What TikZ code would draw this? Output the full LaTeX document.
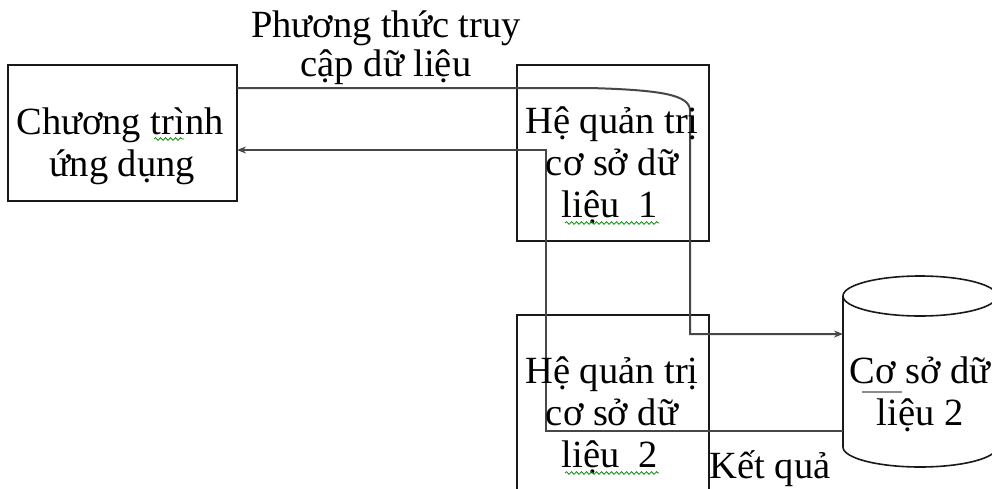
\documentclass[tikz,border=0pt]{standalone}
\usepackage{fontspec}
\setmainfont{Liberation Serif}
\usetikzlibrary{arrows.meta,decorations.pathmorphing}
\begin{document}
\begin{tikzpicture}[x=1pt,y=-1pt,
  box/.style={draw=black!90, line width=1.6pt, rectangle, inner sep=0pt, outer sep=0pt},
  txt/.style={anchor=base, inner sep=0pt, font=\fontsize{38.5}{44}\selectfont},
  conn/.style={draw=black!72, line width=2pt},
  tip/.style={-{Stealth[length=9pt,width=7pt]}},
  squig/.style={draw=green!55!black, line width=0.8pt, decorate, decoration={snake, amplitude=1.3pt, segment length=5pt}}]
\useasboundingbox (0,0) rectangle (992,488);
\clip (0,0) rectangle (992,488);
% boxes
\node[box, minimum width=229pt, minimum height=136pt] (A) at (122.5,133) {};
\node[box, minimum width=192pt, minimum height=176pt] (B) at (613,153) {};
\node[box, minimum width=192pt, minimum height=200pt] (C) at (613,415) {};
% cylinder
\node[inner sep=0pt, outer sep=0pt, minimum width=154pt, minimum height=191pt] (DB) at (920,371.5) {};
\draw[black!90, line width=1.6pt, fill=white] (843,296) -- (843,447) arc[start angle=180, end angle=360, x radius=77pt, y radius=20pt] -- (997,296);
\draw[black!90, line width=1.6pt] (920,296) ellipse [x radius=77pt, y radius=20pt];
% helper coordinates
\coordinate (y88) at (0,88);
\coordinate (y150) at (0,150);
\coordinate (y334) at (0,334);
\coordinate (y431) at (0,431);
% request path
\draw[conn, tip] (A.east |- y88) -- (590,88) .. controls (662,90) and (689,95) .. (690,110) -- (690,334) -- (DB.west |- y334);
% result path
\draw[conn, tip] (DB.west |- y431) -- (546,431) -- (546,150) -- (A.east |- y150);
% texts
\node[txt] (h1) at (386,37) {Phương thức truy};
\node[txt] (h2) at (386,76) {cập dữ liệu};
\node[txt] (a1) at (120,134) {Chương trình};
\node[txt] (a2) at (122,176) {ứng dụng};
\node[txt] (b1) at (612,133) {Hệ quản trị};
\node[txt] (b2) at (612,175) {cơ sở dữ};
\node[txt] (b3) at (610,217) {liệu~~1};
\node[txt] (c1) at (612,383) {Hệ quản trị};
\node[txt] (c2) at (612,425) {cơ sở dữ};
\node[txt] (c3) at (610,467) {liệu~~2};
\node[txt] (d1) at (920,383) {Cơ sở dữ};
\node[txt] (d2) at (920,425) {liệu 2};
\node[txt] (k) at (770,478) {Kết quả};
% proofing marks
\draw[squig] (154,139) -- (184,139);
\draw[squig] (565,223) -- (659,223);
\draw[squig] (565,473) -- (659,473);
\draw[black!45, line width=1.6pt] (862,392) -- (902,392);
\end{tikzpicture}
\end{document}
